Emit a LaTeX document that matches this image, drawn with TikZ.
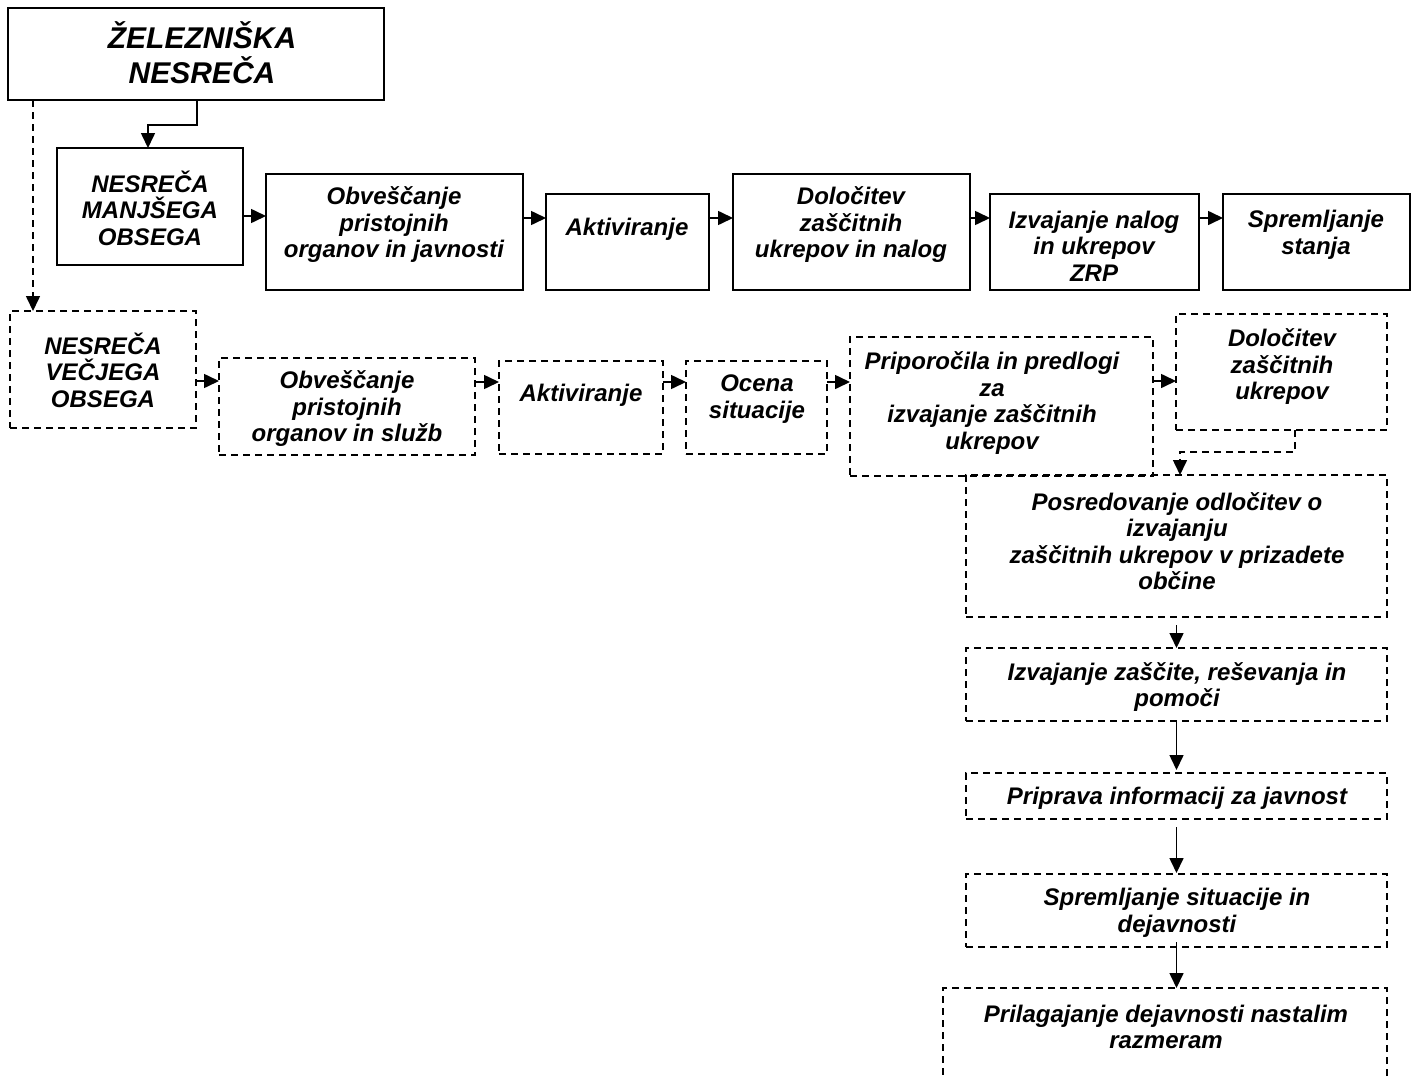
\documentclass[tikz,border=0pt]{standalone}
\usepackage{fontspec}
\setmainfont{Liberation Sans}
\usetikzlibrary{arrows.meta,calc}
\begin{document}
\begin{tikzpicture}[x=1pt,y=-1pt,
  sbox/.style={draw,line width=1.9pt,inner sep=0pt,outer sep=0pt},
  dbox/.style={draw,line width=1.6pt,dash pattern=on 7pt off 5pt,inner sep=0pt,outer sep=0pt},
  txt/.style={font=\fontsize{24}{26.5}\selectfont\bfseries\itshape,align=center,inner sep=0pt},
  ttl/.style={font=\fontsize{30}{35}\selectfont\bfseries\itshape,align=center,inner sep=0pt},
  arr/.style={line width=1.6pt,-{Triangle[length=15pt,width=14pt]}},
  dsh/.style={dash pattern=on 7pt off 5pt}]
\clip (0,0) rectangle (1414,1079);
\fill[white] (0,0) rectangle (1414,1079);
% boxes
\node[sbox,minimum width=376pt,minimum height=92pt] (title) at (196,54) {};
\node[sbox,minimum width=186pt,minimum height=117pt] (b1) at (150,206.5) {};
\node[sbox,minimum width=257pt,minimum height=116pt] (b2) at (394.5,232) {};
\node[sbox,minimum width=163pt,minimum height=96pt] (b3) at (627.5,242) {};
\node[sbox,minimum width=237pt,minimum height=116pt] (b4) at (851.5,232) {};
\node[sbox,minimum width=209pt,minimum height=96pt] (b5) at (1094.5,242) {};
\node[sbox,minimum width=187pt,minimum height=96pt] (b6) at (1316.5,242) {};
\node[dbox,minimum width=186pt,minimum height=117pt] (b7) at (103,369.5) {};
\node[dbox,minimum width=256pt,minimum height=97pt] (b8) at (347,406.5) {};
\node[dbox,minimum width=164pt,minimum height=93pt] (b9) at (581,407.5) {};
\node[dbox,minimum width=141pt,minimum height=93pt] (b10) at (756.5,407.5) {};
\node[dbox,minimum width=303pt,minimum height=139pt] (b11) at (1001.5,406.5) {};
\node[dbox,minimum width=211pt,minimum height=116pt] (b12) at (1281.5,372) {};
\node[dbox,minimum width=421pt,minimum height=142pt] (b13) at (1176.5,546) {};
\node[dbox,minimum width=421pt,minimum height=73pt] (b14) at (1176.5,684.5) {};
\node[dbox,minimum width=421pt,minimum height=46pt] (b15) at (1176.5,796) {};
\node[dbox,minimum width=421pt,minimum height=73pt] (b16) at (1176.5,910.5) {};
\node[dbox,minimum width=444pt,minimum height=112pt] (b17) at (1165,1044) {};
% texts
\node[ttl] (t0) at (202,52.5) {ŽELEZNIŠKA\\NESREČA};
\node[txt] (t1) at (150,208) {NESREČA\\MANJŠEGA\\OBSEGA};
\node[txt] (t2) at (394,225) {Obveščanje\\pristojnih\\organov in javnosti};
\node[txt] (t3) at (627,229) {Aktiviranje};
\node[txt] (t4) at (851,225) {Določitev\\zaščitnih\\ukrepov in nalog};
\node[txt] (t5) at (1094,246) {Izvajanje nalog\\in ukrepov\\ZRP};
\node[txt] (t6) at (1316,235) {Spremljanje\\stanja};
\node[txt] (t7) at (103,370) {NESREČA\\VEČJEGA\\OBSEGA};
\node[txt] (t8) at (347,409) {Obveščanje\\pristojnih\\organov in služb};
\node[txt] (t9) at (581,395) {Aktiviranje};
\node[txt] (t10) at (757,399) {Ocena\\situacije};
\node[txt] (t11) at (992,403) {Priporočila in predlogi\\za\\izvajanje zaščitnih\\ukrepov};
\node[txt] (t12) at (1282,367) {Določitev\\zaščitnih\\ukrepov};
\node[txt] (t13) at (1177,541) {Posredovanje odločitev o\\izvajanju\\zaščitnih ukrepov v prizadete\\občine};
\node[txt] (t14) at (1177,687) {Izvajanje zaščite, reševanja in\\pomoči};
\node[txt] (t15) at (1177,798) {Priprava informacij za javnost};
\node[txt] (t16) at (1177,913) {Spremljanje situacije in\\dejavnosti};
\node[txt] (t17) at (1166,1027) {Prilagajanje dejavnosti nastalim\\razmeram};
% connectors
\draw[arr] (197,0 |- title.south) -- (197,125) -| (148,0 |- b1.north);
\draw[arr,dsh] (33,0 |- title.south) -- (33,0 |- b7.north);
\draw[arr] (b1.east |- 0,216) -- (b2.west |- 0,216);
\draw[arr] (b2.east |- 0,218) -- (b3.west |- 0,218);
\draw[arr] (b3.east |- 0,218) -- (b4.west |- 0,218);
\draw[arr] (b4.east |- 0,218) -- (b5.west |- 0,218);
\draw[arr] (b5.east |- 0,218) -- (b6.west |- 0,218);
\draw[arr] (b7.east |- 0,381) -- (b8.west |- 0,381);
\draw[arr] (b8.east |- 0,382) -- (b9.west |- 0,382);
\draw[arr] (b9.east |- 0,382) -- (b10.west |- 0,382);
\draw[arr] (b10.east |- 0,382) -- (b11.west |- 0,382);
\draw[arr] (b11.east |- 0,381) -- (b12.west |- 0,381);
\draw[arr,dsh] (1295,0 |- b12.south) |- (1180,452) -- (1180,0 |- b13.north);
\draw[arr] ($(b13.south)+(0,8)$) -- (b14.north);
\draw[arr] (b14.south) -- ($(b15.north)+(0,-3)$);
\draw[arr] ($(b15.south)+(0,8)$) -- ($(b16.north)+(0,-1)$);
\draw[arr] ($(b16.south)+(0,-5)$) -- (b16.south |- b17.north);
\end{tikzpicture}
\end{document}
